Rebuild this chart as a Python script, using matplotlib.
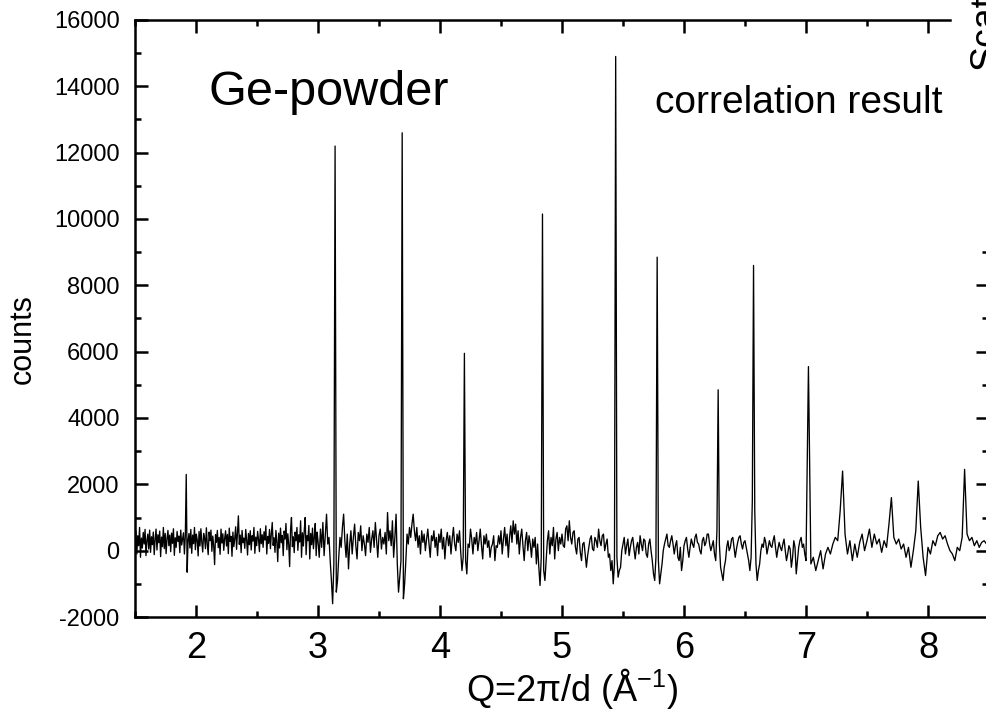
import matplotlib
matplotlib.use("Agg")
import matplotlib.pyplot as plt
import numpy as np
from matplotlib.ticker import MultipleLocator, FixedLocator

plt.rcParams['font.family'] = ['Liberation Sans', 'DejaVu Sans']
plt.rcParams['mathtext.fontset'] = 'custom'
plt.rcParams['mathtext.rm'] = 'Liberation Sans'
plt.rcParams['axes.unicode_minus'] = False

# counts, Q segments with their own sampling
# seg 1: Q = 1.500 .. 2.9925, step 0.0075
q1_start, q1_step = 1.5, 0.0075
counts1 = [
    250, 600, -100, 450, 150, 700, -200, 380, 80, 550, 200, 640, -150, 300, 500, 50, 620, -50, 420, 180,
    560, -120, 340, 650, 20, 480, 240, 590, -180, 410, 120, 700, 60, 520, -90, 360, 610, 150, 470, -30,
    530, 220, 660, -140, 390, 100, 580, 280, 440, -60, 620, 170, 350, 540, -100, 450, 2300, -650, 300, 520,
    80, 640, -80, 470, 210, 700, 30, 500, 330, -160, 580, 140, 660, 260, -40, 520, 380, 60, 690, 200,
    -120, 560, 300, 620, -20, 440, 160, -420, 480, 250, 610, 90, 400, -110, 650, 230, 510, 10, 370, 600,
    140, 490, -90, 680, 280, 430, -170, 560, 120, 360, 720, 40, 530, 1050, 190, 470, -60, 610, 240, 380,
    70, 640, 330, -130, 520, 180, 600, 20, 450, 290, 700, -80, 410, 150, 580, 340, -30, 660, 210, 480,
    100, 570, 320, 750, -100, 430, 220, 640, 60, 500, 850, 160, 390, -50, 610, 270, -330, 530, 80, 680,
    240, 460, -150, 590, 350, 820, 30, 510, 190, -480, 640, 1000, 120, 420, -60, 560, 300, 700, 10, 480,
    260, 900, -200, 540, 140, 620, 1000, -120, 450, 300, 760, -250, 520, 180, 680, 60, 400, 820, -150, 560,
]
# seg 2: Q = 3.00 .. 4.99, step 0.01
q2_start, q2_step = 3.0, 0.01
counts2 = [
    300, -200, 650, 100, 850, -150, 500, 1100, 200, 400, -300, -900, -1600, -400, 12200, -1250, -900, -200, 400, 100,
    700, 1100, 300, -200, 500, -550, 200, 600, -100, 400, 800, 150, -250, 550, 300, 750, 0, 450, 200, -150,
    500, 250, 700, -50, 350, 600, 100, 850, 300, -200, 450, 650, 50, 400, 200, 550, -100, 1150, 300, 600,
    150, 900, -200, 400, 1100, -400, -1250, -800, -300, 12600, -1450, -1000, -300, 500, 200, 700, 400, 800, 1100, 600,
    300, 700, 100, 450, -100, 600, 250, 500, 0, 350, 650, 200, -200, 450, 300, 600, 100, 400, -150, 500,
    250, 650, 50, 400, -250, 300, 550, 150, 450, -100, 350, 700, 200, 0, 500, 250, 600, -50, -600, -200,
    5950, -300, -700, 200, 100, 650, 350, -100, 400, 200, 550, 0, 300, 650, 150, -250, 450, 200, 500, 100,
    300, -200, 100, 200, 450, -300, 150, 100, 450, 200, 600, -100, 350, 700, 150, 500, -200, 400, 750, 250,
    900, 500, 800, 200, 600, -100, 400, 650, 150, -300, 300, 550, 0, 450, 200, -200, 350, 100, 400, -400,
    200, -500, -1050, -200, 10150, -600, -900, -300, 300, 600, -100, 400, 150, 700, -250, 350, 550, 0, 400, 200,
]
# seg 3: Q = 5.00 .. 6.99, step 0.01
q3_start, q3_step = 5.0, 0.01
counts3 = [
    500, 150, 100, 650, 750, 300, 900, 400, 200, 550, 600, 100, -100, 350, 400, -50, -300, 200, 250, -100,
    -500, -150, 100, 350, 450, 50, 0, 400, 300, 100, 650, 300, 150, 450, 500, 0, 200, 350, -200, -100,
    -600, -300, -1000, -400, 14900, -200, -800, -600, -500, 0, 200, 400, -100, 150, 350, -150, 100, 300, 400, 50,
    -250, 100, 250, -100, 450, 200, 0, 350, 300, -100, -200, 200, 350, 0, -300, -700, -900, -200, 8850, -300,
    -1000, -700, -400, 0, 200, 350, 500, 150, 100, 300, 450, 200, -100, 150, 300, -200, -300, 100, -600, -300,
    150, 300, 400, 50, -200, 100, 350, 200, 100, 400, 500, 250, 200, 0, -100, 300, 400, 150, 250, 500,
    500, 200, 0, 150, 300, -100, -300, 600, 4850, 200, -500, -700, -900, -500, -300, 100, 300, 0, 100, 350,
    400, 100, -200, 50, 250, 400, 450, 200, 50, 250, 300, 100, -100, -300, -600, -200, 1500, 8600, 1200, -400,
    -900, -600, -400, 0, 200, 100, 400, 250, -100, 100, 300, 150, 100, 300, 450, 100, -200, 50, 250, 100,
    0, 200, 350, 0, -300, -100, 150, 50, -500, -200, 300, 100, -700, -300, 100, 300, 400, 100, 200, -100,
]
# seg 4: Q = 7.00 .. 8.48, step 0.02
q4_start, q4_step = 7.0, 0.02
counts4 = [
    -300, 5550, -400, -200, -600, -300, 0, -550, -100, 100, -100, 200, 400, 300, 1200, 2400, 500, -100, 300, -300,
    200, -200, 250, 500, 0, 300, 650, 100, 500, 200, 350, -50, 300, 100, 800, 1600, 400, 200, 350, 50,
    200, -200, 100, -500, 0, 600, 2100, 700, -200, -750, 100, -100, 300, 150, 450, 550, 350, 450, 200, 0,
    -100, -300, 100, 0, 400, 2450, 500, 300, 400, 150, 300, 100, 250, 300, 200,
]

q = np.concatenate([
    q1_start + q1_step * np.arange(len(counts1)),
    q2_start + q2_step * np.arange(len(counts2)),
    q3_start + q3_step * np.arange(len(counts3)),
    q4_start + q4_step * np.arange(len(counts4)),
])
counts = np.array(counts1 + counts2 + counts3 + counts4)

W, H = 987, 711
fig = plt.figure(figsize=(W / 100, H / 100), dpi=100)
ax = fig.add_axes([135 / W, 94 / H, 852 / W, 597 / H])

ax.plot(q, counts, color='k', lw=0.95)

ax.set_xlim(1.5, 1.5 + 852 / 122)
ax.set_ylim(-2000, 16000)

ax.xaxis.set_major_locator(MultipleLocator(1))
ax.xaxis.set_minor_locator(MultipleLocator(0.5))
ax.yaxis.set_major_locator(MultipleLocator(2000))
ax.yaxis.set_minor_locator(MultipleLocator(1000))

ax.tick_params(which='both', direction='in', top=True, right=False, width=1.8)
ax.tick_params(which='major', length=9)
ax.tick_params(which='minor', length=4.5)
ax.tick_params(axis='y', labelsize=17, pad=11)
ax.tick_params(axis='x', labelsize=26, pad=10)

for s in ['left', 'bottom', 'top']:
    ax.spines[s].set_linewidth(1.8)
ax.spines['right'].set_visible(False)
ax.spines['top'].set_bounds(1.5, 8.18)

# ticks along the right edge (partly cut off panel)
ax2 = ax.twinx()
ax2.set_ylim(ax.get_ylim())
for s in ax2.spines.values():
    s.set_visible(False)
ax2.yaxis.set_major_locator(FixedLocator([0, 2000, 4000, 6000, 8000]))
ax2.yaxis.set_minor_locator(FixedLocator([-1000, 1000, 3000, 5000, 7000, 9000]))
ax2.tick_params(which='both', direction='in', labelright=False, width=1.8)
ax2.tick_params(which='major', length=8)
ax2.tick_params(which='minor', length=3.6)

ax.set_ylabel('counts', fontsize=22)
ax.yaxis.set_label_coords(-0.114, 0.466)
ax.set_xlabel(r'Q=2π/d (Å$^{\mathregular{-1}}$)', fontsize=26, va='baseline')
ax.xaxis.set_label_coords(0.513, -0.14)

ax.text(0.0857, 0.8576, 'Ge-powder', transform=ax.transAxes, fontsize=35, va='baseline')
ax.text(0.610, 0.844, 'correlation result', transform=ax.transAxes, fontsize=28, va='baseline')

fig.text(968 / W, 1 - 70 / H, 'Scattering', rotation=90, ha='left', va='bottom', fontsize=27)

fig.savefig('out.png', dpi=100)
